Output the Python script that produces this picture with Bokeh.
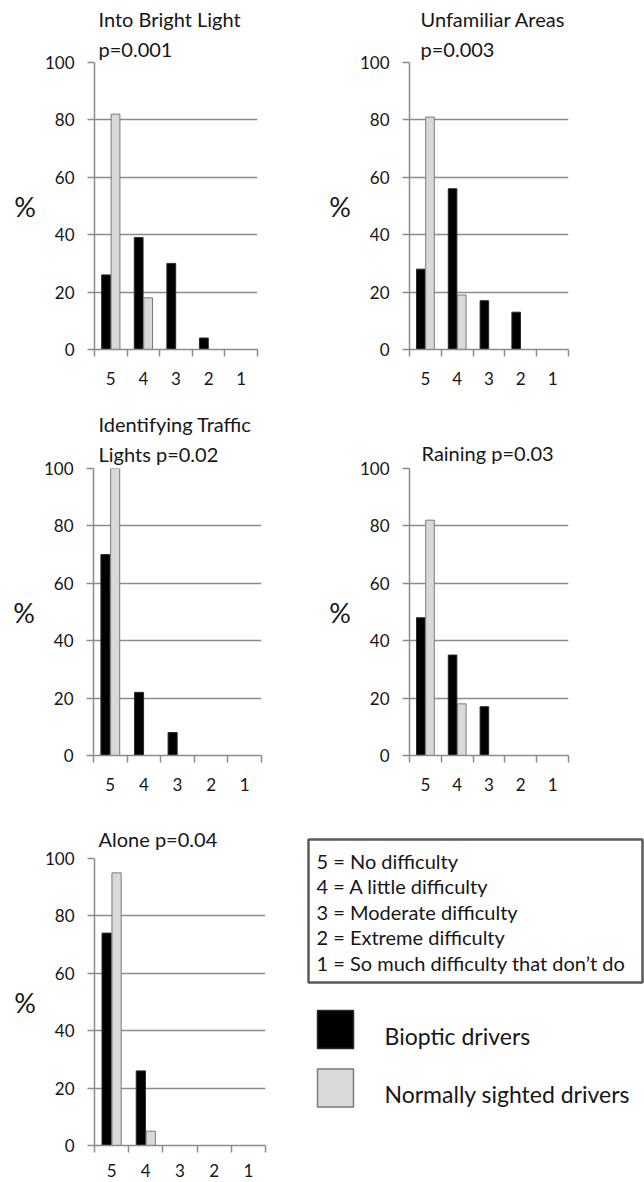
from bokeh.plotting import figure
from bokeh.models import (Range1d, LinearAxis, FixedTicker, Title,
                          ColumnDataSource, Grid)
from bokeh.transform import dodge
from bokeh.layouts import row, column
from bokeh.embed import file_html
from bokeh.resources import INLINE
from bokeh.core.properties import value

# ---------------- data ----------------
categories = ["5", "4", "3", "2", "1"]
series = ["Bioptic drivers", "Normally sighted drivers"]

bright_title = ["Into Bright Light", "p=0.001"]
bright_bioptic = [26, 39, 30, 4, 0]
bright_normal = [82, 18, 0, 0, 0]

unfamiliar_title = ["Unfamiliar Areas", "p=0.003"]
unfamiliar_bioptic = [28, 56, 17, 13, 0]
unfamiliar_normal = [81, 19, 0, 0, 0]

traffic_title = ["Identifying Traffic", "Lights p=0.02"]
traffic_bioptic = [70, 22, 8, 0, 0]
traffic_normal = [100, 0, 0, 0, 0]

raining_title = ["Raining p=0.03"]
raining_bioptic = [48, 35, 17, 0, 0]
raining_normal = [82, 18, 0, 0, 0]

alone_title = ["Alone p=0.04"]
alone_bioptic = [74, 26, 0, 0, 0]
alone_normal = [95, 5, 0, 0, 0]

y_ticks = [0, 20, 40, 60, 80, 100]
y_label = "%"

scale_labels = ["5 = No difficulty", "4 = A little difficulty",
                "3 = Moderate difficulty", "2 = Extreme difficulty",
                "1 = So much difficulty that don\u2019t do"]

# ---------------- style ----------------
FONT = "Lato"
TXT = "#161616"
GRID = "#8c8c8c"
BLACK_FILL, BLACK_LINE = "#000000", "#2a2a2a"
GRAY_FILL, GRAY_LINE = "#d9d9d9", "#7a7a7a"
TICK_FS = "17px"
TITLE_FS = "20px"

N = len(categories)
centers = [i + 0.5 for i in range(N)]          # category slot centres
edges = list(range(N + 1))                       # category slot boundaries


def panel(title_lines, bioptic, normal, fig_w, fig_h, b_left, frame_w, b_top,
          frame_h, title_dx, title_standoff, x_standoff):
    p = figure(width=fig_w, height=fig_h, title=None,
               x_range=Range1d(0, N), y_range=Range1d(0, 100),
               output_backend="svg", toolbar_location=None,
               x_axis_location=None, y_axis_location=None,
               min_border_left=b_left, min_border_right=fig_w - b_left - frame_w,
               min_border_top=b_top, min_border_bottom=fig_h - b_top - frame_h)
    p.grid.visible = False
    p.outline_line_color = None
    p.background_fill_color = "white"
    p.border_fill_color = "white"

    yaxis = LinearAxis(ticker=FixedTicker(ticks=y_ticks),
                       axis_line_color=GRID, axis_line_width=1.5,
                       major_tick_line_color=GRID, major_tick_line_width=1.5,
                       major_tick_out=7, major_tick_in=0,
                       minor_tick_line_color=None,
                       major_label_standoff=13,
                       major_label_text_font=FONT,
                       major_label_text_font_size=TICK_FS,
                       major_label_text_color=TXT,
                       axis_label=y_label,
                       axis_label_orientation="horizontal",
                       axis_label_standoff=6,
                       axis_label_text_font=FONT,
                       axis_label_text_font_style="normal",
                       axis_label_text_font_size="27px",
                       axis_label_text_color=TXT)
    p.add_layout(yaxis, "left")
    p.add_layout(Grid(dimension=1, ticker=FixedTicker(ticks=y_ticks),
                      grid_line_color=GRID, grid_line_width=1.5))

    xaxis = LinearAxis(ticker=FixedTicker(ticks=centers, minor_ticks=edges),
                       major_label_overrides={c: lab for c, lab in zip(centers, categories)},
                       major_tick_line_color=None,
                       major_tick_out=7, major_tick_in=0,
                       minor_tick_line_color=GRID, minor_tick_line_width=1.5,
                       minor_tick_out=7, minor_tick_in=0,
                       axis_line_color=GRID, axis_line_width=1.5,
                       major_label_standoff=x_standoff,
                       major_label_text_font=FONT,
                       major_label_text_font_size=TICK_FS,
                       major_label_text_color=TXT)
    p.add_layout(xaxis, "below")

    for vals, off, fc, lc in ((bioptic, -0.145, BLACK_FILL, BLACK_LINE),
                              (normal, 0.145, GRAY_FILL, GRAY_LINE)):
        src = ColumnDataSource(dict(
            pos=[c for c, v in zip(centers, vals) if v > 0],
            cat=[c for c, v in zip(categories, vals) if v > 0],
            val=[v for v in vals if v > 0]))
        p.vbar(x=dodge("pos", off), top="val", bottom=0,
               width=0.27, source=src, fill_color=fc, line_color=lc,
               line_width=1)

    p.add_layout(Title(text="\n".join(title_lines), align="left",
                       offset=title_dx, standoff=title_standoff,
                       text_line_height=1.25,
                       text_font=FONT, text_font_size=TITLE_FS,
                       text_font_style="normal", text_color=TXT), "above")
    return p


p1 = panel(bright_title, bright_bioptic, bright_normal, 322, 392,
           94, 163, 62, 287, 4, 4, 15)
p2 = panel(unfamiliar_title, unfamiliar_bioptic, unfamiliar_normal, 322, 392,
           87, 159, 62, 289, 11, 4, 15)
p3 = panel(traffic_title, traffic_bioptic, traffic_normal, 322, 408,
           93, 168, 76, 287, 5, 5, 15)
p4 = panel(raining_title, raining_bioptic, raining_normal, 322, 408,
           87, 159, 76, 289, 12, 7, 15)
p5 = panel(alone_title, alone_bioptic, alone_normal, 300, 382,
           94, 171, 58, 287, 4, 16, 11)

# ---------------- legend panel ----------------
LW, LH = 344, 382
leg = figure(width=LW, height=LH, title=None,
             x_range=Range1d(0, LW), y_range=Range1d(LH, 0),
             output_backend="svg", toolbar_location=None,
             x_axis_location=None, y_axis_location=None,
             min_border=0, min_border_left=0, min_border_right=0,
             min_border_top=0, min_border_bottom=0)
leg.grid.visible = False
leg.outline_line_color = None
leg.background_fill_color = "white"
leg.border_fill_color = "white"

leg.quad(left=8, right=342, top=39, bottom=182, fill_color=None,
         line_color="#5a5a5a", line_width=2.5)
leg.text(x=[16] * len(scale_labels),
         y=[60 + 25.5 * i for i in range(len(scale_labels))],
         text=scale_labels, text_align="left", text_baseline="middle",
         text_font=value(FONT), text_font_size="20px", text_color=TXT)

leg.rect(x=[35, 35], y=[229, 287.5], width=36, height=38,
         fill_color=[BLACK_FILL, GRAY_FILL], line_color=[BLACK_LINE, GRAY_LINE],
         line_width=1.5)
leg.text(x=[84, 84], y=[235, 293], text=series, text_align="left",
         text_baseline="middle", text_font=value(FONT),
         text_font_size="23px", text_color=TXT)

layout = column(row(p1, p2, spacing=0), row(p3, p4, spacing=0),
                row(p5, column(leg, spacing=0), spacing=0), spacing=0)

open("out.html", "w").write(file_html(layout, INLINE))
